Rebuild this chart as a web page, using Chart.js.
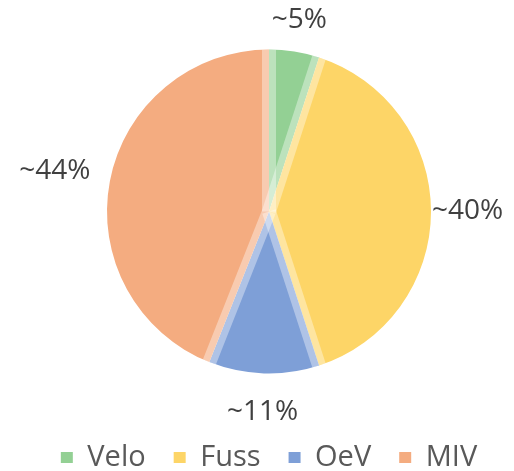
<!DOCTYPE html>
<html>
<head>
<meta charset="utf-8">
<script src="https://cdn.jsdelivr.net/npm/chart.js@4"></script>
<style>
  html, body { margin: 0; padding: 0; background: #fff; }
  #wrap { width: 514px; height: 471px; }
</style>
</head>
<body>
<div id="wrap"><canvas id="pie" width="514" height="471"></canvas></div>
<script>
const categories = ["Velo", "Fuss", "OeV", "MIV"]
const shares = [5, 40, 11, 44]
const shareLabels = ["~5%", "~40%", "~11%", "~44%"]
const colors = ["#93d094", "#fdd567", "#7e9fd7", "#f4ac80"]

// light strips along each slice edge, like the original chart
const edgeStrips = {
    id: "edgeStrips",
    afterDatasetsDraw(chart) {
        const ctx = chart.ctx
        const arcs = chart.getDatasetMeta(0).data
        const half = 3.5
        ctx.save()
        const a0 = arcs[0]
        ctx.beginPath()
        ctx.arc(a0.x, a0.y, a0.outerRadius, 0, Math.PI * 2)
        ctx.clip()
        arcs.forEach(arc => {
            const { x, y, startAngle, endAngle, outerRadius } = arc.getProps(["x", "y", "startAngle", "endAngle", "outerRadius"])
            const edges = [
                [startAngle, -Math.sin(startAngle), Math.cos(startAngle)],
                [endAngle, Math.sin(endAngle), -Math.cos(endAngle)]
            ]
            edges.forEach(([a, nx, ny]) => {
                ctx.beginPath()
                ctx.moveTo(x + nx * half, y + ny * half)
                ctx.lineTo(x + Math.cos(a) * (outerRadius + 5) + nx * half, y + Math.sin(a) * (outerRadius + 5) + ny * half)
                ctx.lineWidth = half * 2
                ctx.strokeStyle = "rgba(255,255,255,0.38)"
                ctx.stroke()
            })
        })
        ctx.restore()
    }
}

// labels outside the slices (gap between pie edge and text, per slice)
const labelGaps = [17, 1, 27, 19]
const outsideLabels = {
    id: "outsideLabels",
    afterDraw(chart) {
        const ctx = chart.ctx
        const arcs = chart.getDatasetMeta(0).data
        ctx.save()
        ctx.font = "28px 'Open Sans'"
        ctx.fillStyle = "#404040"
        ctx.textAlign = "center"
        ctx.textBaseline = "middle"
        arcs.forEach((arc, i) => {
            const { x, y, startAngle, endAngle, outerRadius } = arc.getProps(["x", "y", "startAngle", "endAngle", "outerRadius"])
            const mid = (startAngle + endAngle) / 2
            const dx = Math.cos(mid), dy = Math.sin(mid)
            const w = ctx.measureText(shareLabels[i]).width
            const h = 22
            const r = outerRadius + labelGaps[i] + Math.abs(dx) * w / 2 + Math.abs(dy) * h / 2
            ctx.fillText(shareLabels[i], x + dx * r, y + dy * r)
        })
        ctx.restore()
    }
}

new Chart(document.querySelector("#pie"), {
    type: "pie",
    data: {
        labels: categories,
        datasets: [{
            data: shares,
            backgroundColor: colors,
            borderWidth: 0,
            radius: 162
        }]
    },
    options: {
        responsive: false,
        animation: false,
        layout: { padding: { top: 8, left: 24, right: 0, bottom: -11 } },
        plugins: {
            legend: {
                position: "bottom",
                labels: {
                    boxWidth: 12,
                    boxHeight: 11,
                    padding: 28,
                    color: "#595959",
                    font: { family: "'Open Sans'", size: 29 }
                }
            },
            tooltip: { enabled: false }
        }
    },
    plugins: [edgeStrips, outsideLabels]
})
</script>
</body>
</html>
